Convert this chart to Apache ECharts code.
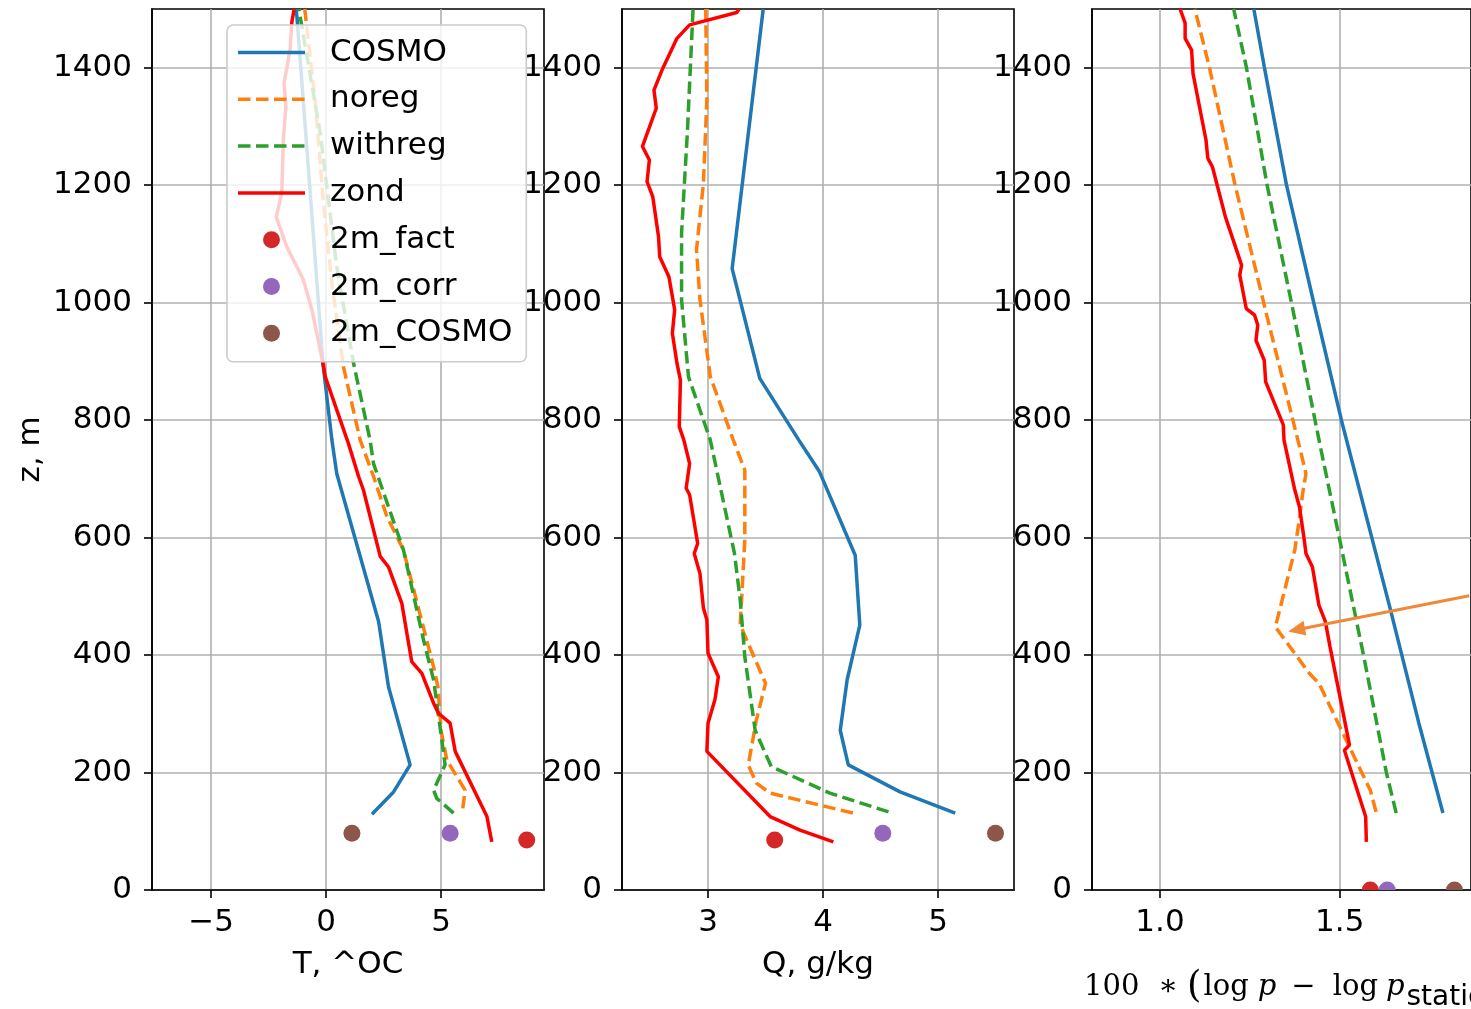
<!DOCTYPE html>
<html><head><meta charset="utf-8">
<script src="https://cdn.jsdelivr.net/npm/echarts@6/dist/echarts.min.js"></script>
<style>html,body{margin:0;padding:0;background:#fff}#c{width:1471px;height:1009px}</style>
</head><body><div id="c"></div>
<script>
// ---------- data (value, height m) ----------
const LEGEND_NAMES = ['COSMO', 'noreg', 'withreg', 'zond', '2m_fact', '2m_corr', '2m_COSMO'];
const Y_TICKS = [0, 200, 400, 600, 800, 1000, 1200, 1400];
const T_TICKS = [-5, 0, 5];
const Q_TICKS = [3, 4, 5];
const P_TICKS = [1.0, 1.5];

// Panel 1: temperature
const T_COSMO = [[1.99,129],[2.93,167],[3.65,213],[2.71,346],[2.28,457],[0.46,709],[0.25,766],[-0.14,897],[-0.67,1175],[-1.27,1487],[-1.31,1500]];
const T_NOREG = [[5.94,139],[6.04,170],[5.25,221],[5.0,270],[4.86,346],[4.67,380],[3.36,579],[2.64,636],[2.06,704],[1.48,766],[0.75,891],[0.25,1033],[-0.13,1175],[-0.48,1345],[-0.91,1493],[-0.93,1500]];
const T_WITHREG = [[5.54,131],[4.81,156],[4.67,170],[5.17,213],[5.03,255],[4.67,358],[4.23,426],[3.36,579],[2.06,726],[1.91,766],[1.19,897],[0.46,1061],[-0.26,1289],[-1.13,1487],[-1.17,1500]];
const T_ZOND = [[7.20,82],[6.99,125],[5.61,236],[5.39,284],[4.88,301],[4.67,318],[4.16,369],[3.72,389],[3.51,437],[3.29,488],[2.71,550],[2.35,568],[1.62,681],[1.41,704],[0.97,760],[-0.04,874],[-0.14,897],[-0.62,988],[-0.99,1039],[-1.71,1095],[-2.17,1146],[-1.93,1186],[-1.86,1277],[-1.75,1334],[-1.83,1374],[-1.57,1430],[-1.49,1478],[-1.39,1500]];
const T_FACT = [[8.72,85]];
const T_CORR = [[5.39,96.5]];
const T_C2M = [[1.12,96.5]];

// Panel 2: specific humidity
const Q_COSMO = [[5.15,131],[4.67,167],[4.22,213],[4.15,272],[4.21,358],[4.32,451],[4.28,570],[3.97,712],[3.79,766],[3.45,871],[3.21,1058],[3.48,1500]];
const Q_NOREG = [[4.26,131],[3.54,165],[3.42,182],[3.35,213],[3.42,289],[3.50,352],[3.28,451],[3.32,596],[3.32,715],[3.22,766],[3.02,874],[2.93,1005],[2.90,1090],[2.96,1203],[2.99,1345],[2.98,1500]];
const Q_WITHREG = [[4.57,133],[4.06,165],[3.55,210],[3.41,272],[3.32,397],[3.28,494],[3.23,573],[3.02,766],[2.83,874],[2.77,1005],[2.77,1119],[2.82,1288],[2.87,1500]];
const Q_ZOND = [[4.09,82],[3.80,102],[3.54,125],[2.99,236],[3.00,284],[3.06,324],[3.09,363],[3.00,403],[2.99,460],[2.96,480],[2.93,539],[2.88,573],[2.91,590],[2.84,673],[2.81,684],[2.84,726],[2.79,766],[2.75,789],[2.76,868],[2.73,897],[2.69,948],[2.71,988],[2.66,1044],[2.58,1078],[2.57,1112],[2.52,1180],[2.47,1206],[2.49,1243],[2.43,1266],[2.55,1331],[2.53,1362],[2.60,1396],[2.73,1450],[2.84,1473],[3.25,1494],[3.27,1500]];
const Q_FACT = [[3.58,85]];
const Q_CORR = [[4.52,96.5]];
const Q_C2M = [[5.50,96.5]];

// Panel 3: 100*(log p - log p_station)
const P_COSMO = [[1.787,131],[1.72,284],[1.639,482],[1.505,799],[1.428,999],[1.352,1200],[1.29,1402],[1.261,1500]];
const P_NOREG = [[1.601,133],[1.585,170],[1.558,204],[1.500,278],[1.442,352],[1.415,369],[1.321,448],[1.375,579],[1.388,633],[1.397,676],[1.406,709],[1.388,755],[1.298,976],[1.209,1200],[1.137,1402],[1.097,1500]];
const P_WITHREG = [[1.657,131],[1.630,199],[1.567,397],[1.500,596],[1.446,755],[1.366,999],[1.298,1200],[1.240,1402],[1.205,1500]];
const P_ZOND = [[1.574,82],[1.572,125],[1.513,238],[1.527,247],[1.496,343],[1.473,414],[1.460,457],[1.442,485],[1.424,550],[1.406,573],[1.402,593],[1.388,652],[1.375,681],[1.357,732],[1.345,766],[1.343,792],[1.294,865],[1.290,902],[1.267,936],[1.272,962],[1.263,979],[1.240,990],[1.222,1047],[1.227,1064],[1.182,1146],[1.146,1231],[1.133,1246],[1.128,1277],[1.092,1390],[1.088,1430],[1.070,1450],[1.070,1476],[1.056,1500]];
const P_FACT = [[1.585,0]];
const P_CORR = [[1.632,0]];
const P_C2M = [[1.819,0]];
const P_ARROW = [[1.86,501],[1.38,443]];

// ---------- style ----------
const FONT = 'DejaVu Sans';
const COL = {COSMO:'#1f77b4', noreg:'#ff7f0e', withreg:'#2ca02c', zond:'#ff0000', '2m_fact':'#d62728', '2m_corr':'#9467bd', '2m_COSMO':'#8c564b'};
const LW = 3.5;
const DASH = [12.5, 5.5];
const X_RANGES = [[-7.57, 9.47], [2.252, 5.661], [0.811, 1.865]];
const X_TICKS = [T_TICKS, Q_TICKS, P_TICKS];
const X_NAMES = ['T, ^OC', 'Q, g/kg', ''];
const LEFTS = [152, 622, 1092];

const grids = LEFTS.map(l => ({left: l, top: 9, width: 392, height: 881, show: true, borderColor: '#000', borderWidth: 1.6, backgroundColor: 'transparent'}));

const fmtX = [v => String(v).replace('-', '\u2212'), v => String(v), v => Number(v).toFixed(1)];

const xAxes = [0,1,2].map(i => ({
  type: 'value', gridIndex: i, min: X_RANGES[i][0], max: X_RANGES[i][1],
  name: X_NAMES[i], nameLocation: 'middle', nameGap: 59,
  nameTextStyle: {fontFamily: FONT, fontSize: 31, color: '#000'},
  axisLine: {show: true, onZero: false, lineStyle: {color: '#000', width: 1.6}},
  axisTick: {show: true, length: 8, customValues: X_TICKS[i], lineStyle: {color: '#000', width: 1.6}},
  axisLabel: {customValues: X_TICKS[i], margin: 17, fontFamily: FONT, fontSize: 31, color: '#000', formatter: fmtX[i]},
  splitLine: {show: true, lineStyle: {color: '#b0b0b0', width: 1.6}}
}));
const yAxes = [0,1,2].map(i => ({
  type: 'value', gridIndex: i, min: 0, max: 1500,
  name: i === 0 ? 'z, m' : '', nameLocation: 'middle', nameGap: 106, nameRotate: 90,
  nameTextStyle: {fontFamily: FONT, fontSize: 31, color: '#000'},
  axisLine: {show: true, onZero: false, lineStyle: {color: '#000', width: 1.6}},
  axisTick: {show: true, length: 8, customValues: Y_TICKS, lineStyle: {color: '#000', width: 1.6}},
  axisLabel: {customValues: Y_TICKS, margin: 20, fontFamily: FONT, fontSize: 31, color: '#000', formatter: v => String(v)},
  splitLine: {show: true, lineStyle: {color: '#b0b0b0', width: 1.6}}
}));

function lineS(name, data, i, dashed) {
  return {name, type: 'line', xAxisIndex: i, yAxisIndex: i, data, symbol: 'none', showSymbol: false,
    color: COL[name], lineStyle: {color: COL[name], width: LW, type: dashed ? DASH : 'solid', cap: 'butt'},
    silent: true, z: 3, animation: false};
}
const HALF = 'path://M0,10A10,10,0,0,1,20,10Z';
function dotS(name, data, i, half) {
  return {name, type: 'scatter', xAxisIndex: i, yAxisIndex: i, data, color: COL[name],
    itemStyle: {color: COL[name], opacity: 1},
    symbol: half ? HALF : 'circle', symbolSize: half ? [17, 8.5] : 17, symbolOffset: half ? [0, '-50%'] : [0, 0],
    silent: true, z: 4, animation: false};
}

const panels = [
  [T_COSMO, T_NOREG, T_WITHREG, T_ZOND, T_FACT, T_CORR, T_C2M],
  [Q_COSMO, Q_NOREG, Q_WITHREG, Q_ZOND, Q_FACT, Q_CORR, Q_C2M],
  [P_COSMO, P_NOREG, P_WITHREG, P_ZOND, P_FACT, P_CORR, P_C2M]
];
const series = [];
panels.forEach((p, i) => {
  series.push(lineS('COSMO', p[0], i, false));
  const nr = lineS('noreg', p[1], i, true);
  if (i === 2) {
    nr.markLine = {silent: true, animation: false, symbol: ['none', 'triangle'], symbolSize: [15, 17],
      label: {show: false}, lineStyle: {color: '#f0883a', width: 3, type: 'solid'},
      emphasis: {disabled: true},
      data: [[{coord: P_ARROW[0]}, {coord: P_ARROW[1]}]]};
  }
  series.push(nr);
  series.push(lineS('withreg', p[2], i, true));
  series.push(lineS('zond', p[3], i, false));
  series.push(dotS('2m_fact', p[4], i, i === 2));
  series.push(dotS('2m_corr', p[5], i, i === 2));
  series.push(dotS('2m_COSMO', p[6], i, i === 2));
});

const ICON_SOLID = 'path://M0,0M67,28M0,12.25H67V15.75H0Z';
const ICON_DASH = 'path://M0,0M67,28M0,12.25H12.5V15.75H0ZM18,12.25H30.5V15.75H18ZM36,12.25H48.5V15.75H36ZM54,12.25H66.5V15.75H54Z';
const ICON_DOT = 'path://M0,0M67,28M25,14A8.5,8.5,0,1,0,42,14A8.5,8.5,0,1,0,25,14Z';
const legendIcons = [ICON_SOLID, ICON_DASH, ICON_DASH, ICON_SOLID, ICON_DOT, ICON_DOT, ICON_DOT];

const SERIF = {fontFamily: 'DejaVu Serif', fontWeight: 'normal', fontSize: 29, color: '#000', lineHeight: 44};
const option = {
  animation: false,
  backgroundColor: '#fff',
  grid: grids, xAxis: xAxes, yAxis: yAxes, series,
  title: {
    left: 1084, top: 965, padding: 0,
    text: '{n|100}{op|\u2217}{b|(}{lg|log}{p1|p}{mi|\u2212}{lg2|log}{p2|p}{s|station}{b2|)}',
    textStyle: {fontWeight: 'normal', rich: {
      n: Object.assign({}, SERIF),
      op: Object.assign({}, SERIF, {padding: [0, 0, 0, 19]}),
      b: Object.assign({}, SERIF, {fontSize: 37, padding: [0, 0, 0, 9]}),
      lg: Object.assign({}, SERIF, {padding: [0, 0, 0, 2]}),
      p1: Object.assign({}, SERIF, {fontStyle: 'italic', padding: [0, 0, 0, 9]}),
      mi: Object.assign({}, SERIF, {padding: [0, 0, 0, 15]}),
      lg2: Object.assign({}, SERIF, {padding: [0, 0, 0, 17]}),
      p2: Object.assign({}, SERIF, {fontStyle: 'italic', padding: [0, 0, 0, 8]}),
      s: {fontFamily: FONT, fontWeight: 'normal', fontSize: 28, color: '#000', lineHeight: 44, padding: [22, 0, 0, 2]},
      b2: Object.assign({}, SERIF, {fontSize: 37})
    }}
  },
  legend: {
    orient: 'vertical', left: 227, top: 25, padding: [12, 14, 13, 11],
    itemWidth: 67, itemHeight: 28, itemGap: 15.8, selectedMode: false,
    backgroundColor: 'rgba(255,255,255,0.8)', borderColor: '#cccccc', borderWidth: 1.6, borderRadius: 6,
    itemStyle: {borderWidth: 0},
    textStyle: {fontFamily: FONT, fontSize: 31, lineHeight: 31, color: '#000', padding: [0, 0, 0, 20]},
    data: LEGEND_NAMES.map((n, k) => ({name: n, icon: legendIcons[k]}))
  }
};
const chart = echarts.init(document.getElementById('c'), null, {renderer: 'canvas'});
chart.setOption(option);
</script></body></html>
